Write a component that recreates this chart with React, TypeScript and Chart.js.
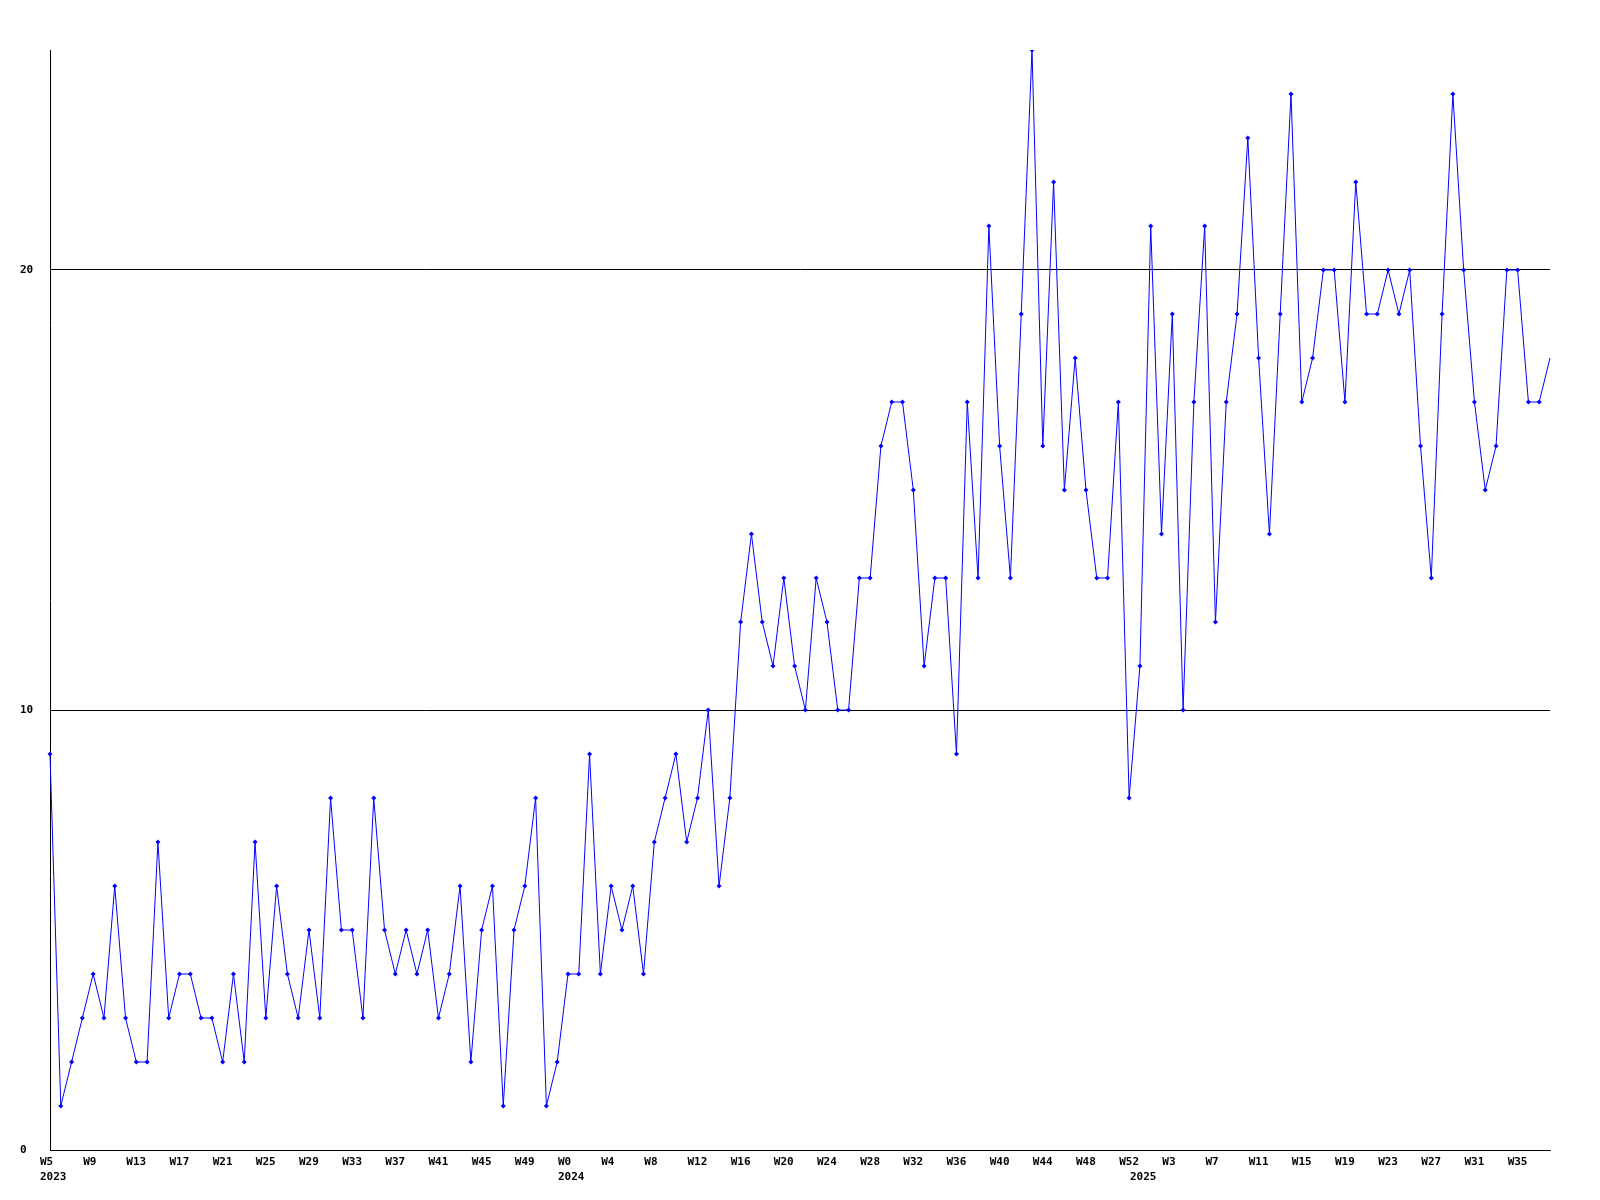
import React, { useEffect, useRef } from 'react';
import { Chart, registerables } from 'chart.js';

Chart.register(...registerables);

// Year segments of the weekly category axis
const years = [2023, 2024, 2025];
const firstWeek = [5, 0, 0];
const lastWeek = [52, 52, 38];

// Weekly values per year
const values2023 = [
  9, 1, 2, 3, 4, 3, 6, 3, 2, 2, 7, 3, 4, 4, 3, 3, 2, 4, 2, 7, 3, 6, 4, 3, 5, 3, 8, 5,
  5, 3, 8, 5, 4, 5, 4, 5, 3, 4, 6, 2, 5, 6, 1, 5, 6, 8, 1, 2,
];
const values2024 = [
  4, 4, 9, 4, 6, 5,
  6, 4, 7, 8, 9, 7, 8, 10, 6, 8, 12, 14, 12, 11, 13, 11, 10, 13, 12, 10, 10, 13, 13, 16,
  17, 17, 15, 11, 13, 13, 9, 17, 13, 21, 16, 13, 19, 25, 16, 22, 15, 18, 15, 13, 13, 17, 8,
];
const values2025 = [
  11,
  21, 14, 19, 10, 17, 21, 12, 17, 19, 23, 18, 14, 19, 24, 17, 18, 20, 20, 17, 22, 19, 19, 20, 19,
  20, 16, 13, 19, 24, 20, 17, 15, 16, 20, 20, 17, 17, 18,
];

// Y axis tick values
const yTicks = [0, 10, 20];
const yMax = 25;

type Cat = { year: number; week: number; first: boolean };

const categories: Cat[] = [];
years.forEach((y, yi) => {
  for (let w = firstWeek[yi]; w <= lastWeek[yi]; w++) {
    categories.push({ year: y, week: w, first: w === firstWeek[yi] });
  }
});
const values = [...values2023, ...values2024, ...values2025];
const labels = categories.map((c) => `${c.year}-W${c.week}`);

const font = { family: "'DejaVu Sans Mono', 'Liberation Mono', monospace", size: 11, weight: 'bold' as const, lineHeight: 15 / 11 };

export default function App() {
  const ref = useRef<HTMLCanvasElement | null>(null);

  useEffect(() => {
    if (!ref.current) return;
    const chart = new Chart(ref.current, {
      type: 'line',
      data: {
        labels,
        datasets: [
          {
            data: values,
            borderColor: '#0000ff',
            backgroundColor: '#0000ff',
            borderWidth: 1,
            pointStyle: 'rectRot',
            pointRadius: (ctx: any) => (ctx.dataIndex === values.length - 1 ? 0 : 2.5),
            pointBorderWidth: 0,
            pointBackgroundColor: '#0000ff',
            tension: 0,
            fill: false,
          },
        ],
      },
      options: {
        animation: false,
        responsive: false,
        maintainAspectRatio: false,
        layout: { padding: { left: 20, right: 50, top: 50, bottom: 0 } },
        plugins: { legend: { display: false }, tooltip: { enabled: false } },
        scales: {
          x: {
            type: 'category',
            offset: false,
            grid: { display: false, drawTicks: false },
            border: { display: true, color: '#000', width: 1 },
            ticks: {
              autoSkip: false,
              maxRotation: 0,
              minRotation: 0,
              align: 'start',
              labelOffset: -10,
              padding: 5,
              color: '#000',
              font,
              callback: (_v: any, i: number) => {
                const c = categories[i];
                const wl = i % 4 === 0 ? `W${c.week}` : '';
                if (c.first) return [wl, String(c.year)];
                return wl;
              },
            },
            afterFit: (s: any) => {
              s.height = 50;
            },
          },
          y: {
            min: 0,
            max: yMax,
            afterBuildTicks: (s: any) => {
              s.ticks = yTicks.map((v) => ({ value: v }));
            },
            grid: { color: '#000', lineWidth: 1, drawTicks: false },
            border: { display: true, color: '#000', width: 1 },
            ticks: { crossAlign: 'far', padding: 0, color: '#000', font },
            afterFit: (s: any) => {
              s.width = 30;
            },
          },
        },
      },
    });
    return () => chart.destroy();
  }, []);

  return (
    <div style={{ position: 'fixed', left: 0, top: 0, width: 1600, height: 1200, background: '#fff' }}>
      <canvas ref={ref} width={1600} height={1200} style={{ display: 'block' }} />
    </div>
  );
}
